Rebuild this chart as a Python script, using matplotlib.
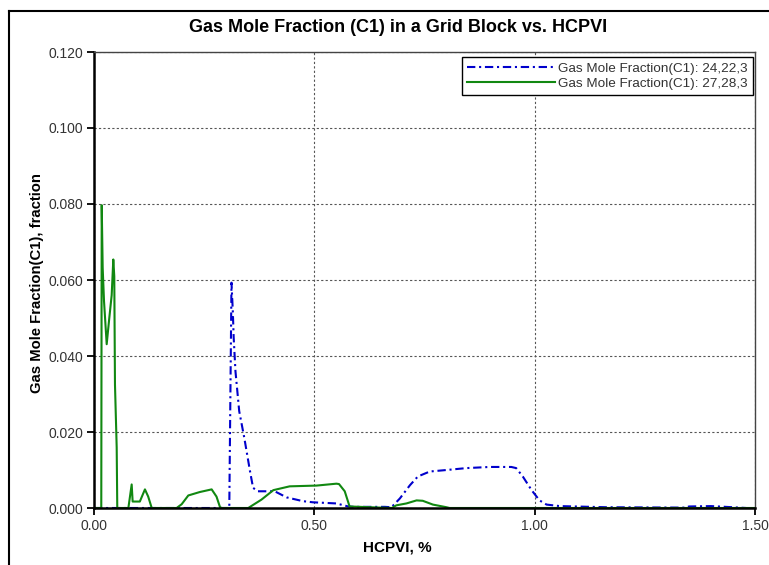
import matplotlib
matplotlib.use('Agg')
import matplotlib.pyplot as plt
from matplotlib.lines import Line2D

plt.rcParams['font.family'] = ['Liberation Sans', 'DejaVu Sans']

# Gas mole fraction (C1), block 24,22,3
blue_x = [0.0, 0.300, 0.307, 0.312, 0.315, 0.317, 0.321, 0.3295, 0.341, 0.354,
          0.361, 0.372, 0.410, 0.437, 0.474, 0.497, 0.550, 0.577, 0.590, 0.630,
          0.660, 0.675, 0.694, 0.717, 0.735, 0.762, 0.800, 0.845, 0.898, 0.947,
          0.958, 0.973, 0.993, 1.011, 1.027, 1.057, 1.163, 1.344, 1.350, 1.400,
          1.450, 1.480]
blue_y = [0.0, 0.0, 0.0, 0.0593, 0.0518, 0.0448, 0.0360, 0.0255, 0.0185, 0.0097,
          0.0053, 0.0044, 0.0044, 0.0028, 0.0018, 0.0015, 0.0012, 0.0004, 0.0003, 0.0003,
          0.0003, 0.0002, 0.0025, 0.0060, 0.0083, 0.0096, 0.0100, 0.0105, 0.0108, 0.0108,
          0.0105, 0.0083, 0.0047, 0.0020, 0.0009, 0.0005, 0.0002, 0.0001, 0.0004, 0.0005,
          0.0002, 0.0]

# Gas mole fraction (C1), block 27,28,3
green_x = [0.0, 0.0165, 0.0175, 0.0197, 0.0227, 0.0288, 0.0347, 0.0401, 0.0438,
           0.0460, 0.0476, 0.0515, 0.0528, 0.078, 0.0855, 0.0877, 0.104, 0.1156,
           0.123, 0.131, 0.1875, 0.199, 0.214, 0.240, 0.267, 0.278, 0.286, 0.290,
           0.350, 0.380, 0.407, 0.444, 0.505, 0.550, 0.556, 0.569, 0.580, 0.676,
           0.686, 0.709, 0.732, 0.746, 0.769, 0.800, 0.807, 1.50]
green_y = [0.0, 0.0, 0.0797, 0.0632, 0.0545, 0.0431, 0.0500, 0.0560, 0.0654,
           0.0610, 0.0325, 0.0159, 0.0, 0.0, 0.0062, 0.0017, 0.0017, 0.0049,
           0.0030, 0.0, 0.0, 0.0010, 0.0033, 0.0042, 0.0049, 0.0030, 0.0002, 0.0,
           0.0, 0.0022, 0.0047, 0.0057, 0.0059, 0.0064, 0.0063, 0.0044, 0.0004, 0.0,
           0.0007, 0.0012, 0.0020, 0.0019, 0.0009, 0.0002, 0.0, 0.0]

x_ticks = [0.0, 0.5, 1.0, 1.5]
y_ticks = [0.0, 0.02, 0.04, 0.06, 0.08, 0.10, 0.12]

fig = plt.figure(figsize=(7.69, 5.65), dpi=100)
ax = fig.add_axes([94 / 769, 1 - 508 / 565, 661 / 769, 456 / 565])

ax.plot(blue_x, blue_y, color='#0000cc', lw=1.5, linestyle=(0, (4, 1.8, 1, 1.8)),
        label='Gas Mole Fraction(C1): 24,22,3')
ax.plot(green_x, green_y, color='#118811', lw=1.5,
        label='Gas Mole Fraction(C1): 27,28,3')

ax.set_xlim(0, 1.5)
ax.set_ylim(0, 0.12)
ax.set_xticks(x_ticks)
ax.set_yticks(y_ticks)
ax.set_xticklabels([f'{v:.2f}' for v in x_ticks])
ax.set_yticklabels([f'{v:.3f}' for v in y_ticks])
ax.tick_params(direction='out', length=5, width=1.3, labelsize=10,
               labelcolor='#333333', pad=3)

ax.grid(True, color='#555555', linestyle=(0, (2, 2)), linewidth=0.8)
for side in ['left', 'bottom']:
    ax.spines[side].set_linewidth(1.8)
    ax.spines[side].set_color('black')
for side in ['top', 'right']:
    ax.spines[side].set_linewidth(1)
    ax.spines[side].set_color('#444444')

leg = ax.legend(loc='upper right', bbox_to_anchor=(0.997, 0.989), borderaxespad=0,
                fontsize=9.7, handlelength=6.5, handletextpad=0.25, borderpad=0.4,
                labelspacing=0.2, fancybox=False, framealpha=1, edgecolor='black')
leg.get_frame().set_linewidth(1)
for t in leg.get_texts():
    t.set_color('#333333')

fig.text(398 / 769, 1 - 28 / 565, 'Gas Mole Fraction (C1) in a Grid Block vs. HCPVI',
         ha='center', va='center', fontsize=13, fontweight='bold')
fig.text(37 / 769, 1 - 283 / 565, 'Gas Mole Fraction(C1), fraction', rotation=90,
         ha='center', va='center', fontsize=10.7, fontweight='bold')
fig.text(397 / 769, 1 - 548 / 565, 'HCPVI, %', ha='center', va='center',
         fontsize=11, fontweight='bold')

# outer frame
fig.add_artist(Line2D([9 / 769, 9 / 769], [0, 1 - 11 / 565], color='black', lw=1.5))
fig.add_artist(Line2D([9 / 769, 1], [1 - 11 / 565, 1 - 11 / 565], color='black', lw=1.5))

fig.savefig('out.png', dpi=100)
